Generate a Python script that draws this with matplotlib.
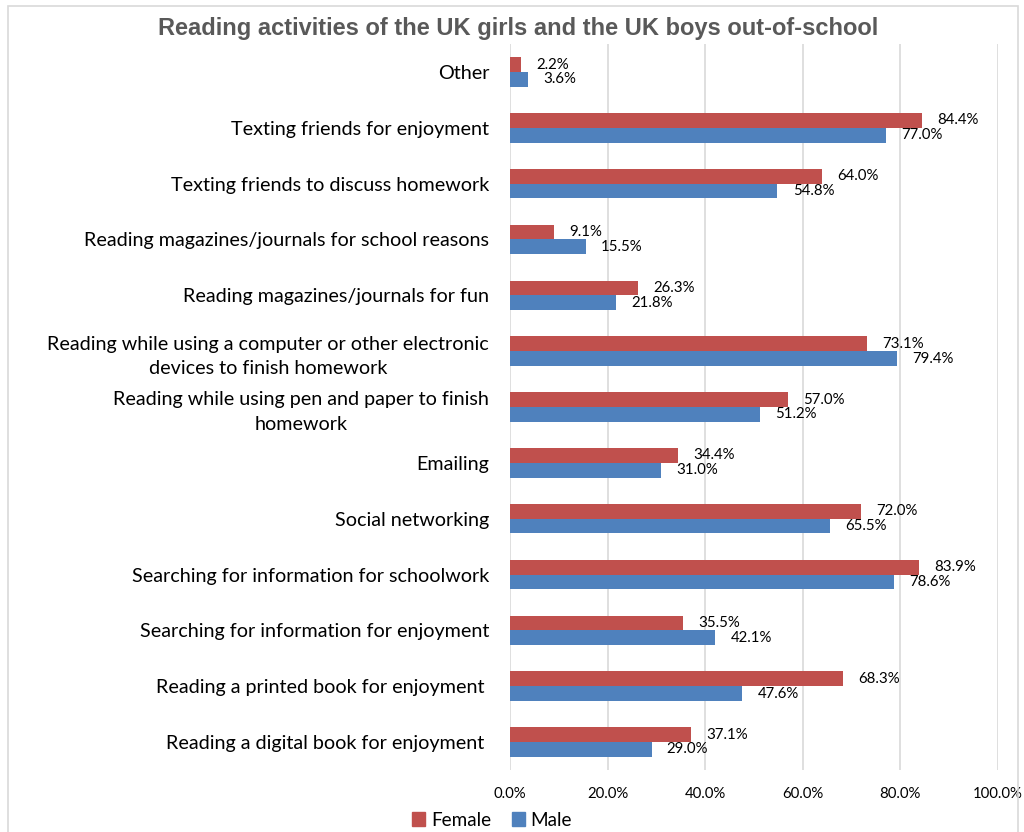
import matplotlib.pyplot as plt
import matplotlib.patches as mpatches
import numpy as np

categories = [
    "Other",
    "Texting friends for enjoyment",
    "Texting friends to discuss homework",
    "Reading magazines/journals for school reasons",
    "Reading magazines/journals for fun",
    "Reading while using a computer or other electronic\ndevices to finish homework",
    "Reading while using pen and paper to finish\nhomework",
    "Emailing",
    "Social networking",
    "Searching for information for schoolwork",
    "Searching for information for enjoyment",
    "Reading a printed book for enjoyment ",
    "Reading a digital book for enjoyment ",
]
female = [2.2, 84.4, 64.0, 9.1, 26.3, 73.1, 57.0, 34.4, 72.0, 83.9, 35.5, 68.3, 37.1]
male = [3.6, 77.0, 54.8, 15.5, 21.8, 79.4, 51.2, 31.0, 65.5, 78.6, 42.1, 47.6, 29.0]
xticks = [0, 20, 40, 60, 80, 100]

FEMALE_C = "#C0504D"
MALE_C = "#4F81BD"
LABEL_FONT = "Lato"

fig = plt.figure(figsize=(10.24, 8.32), dpi=100)
ax = fig.add_axes([510 / 1024, 1 - 770 / 832, 488 / 1024, 726 / 832])

n = len(categories)
pos = np.arange(n)[::-1].astype(float)
h = 0.265
ax.barh(pos + h / 2, female, height=h, color=FEMALE_C, label="Female", zorder=3)
ax.barh(pos - h / 2, male, height=h, color=MALE_C, label="Male", zorder=3)

for y, v in zip(pos + h / 2, female):
    ax.annotate(f"{v:.1f}%", (v, y), xytext=(11, 0), textcoords="offset points",
                ha="left", va="center", fontsize=10.8, family=LABEL_FONT, color="#000000")
for y, v in zip(pos - h / 2, male):
    ax.annotate(f"{v:.1f}%", (v, y), xytext=(11, 0), textcoords="offset points",
                ha="left", va="center", fontsize=10.8, family=LABEL_FONT, color="#000000")

ax.set_xlim(0, 100)
ax.set_ylim(-0.5, n - 0.5)
ax.set_xticks(xticks)
ax.set_xticklabels([f"{t:.1f}%" for t in xticks], family=LABEL_FONT, fontsize=10.7)
ax.set_yticks(pos)
ax.set_yticklabels(categories, family=LABEL_FONT, fontsize=14.2,
                   multialignment="center", linespacing=1.55)
ax.tick_params(axis="y", length=0, pad=15)
ax.tick_params(axis="x", length=0, pad=12)
ax.grid(axis="x", color="#D9D9D9", linewidth=1.2, zorder=0)
for s in ax.spines.values():
    s.set_visible(False)

fig.text(518 / 1024, 1 - 28 / 832,
         "Reading activities of the UK girls and the UK boys out-of-school",
         ha="center", va="center", fontsize=17, fontweight="bold",
         family="Liberation Sans", color="#595959")

handles = [mpatches.Patch(color=FEMALE_C, label="Female"),
           mpatches.Patch(color=MALE_C, label="Male")]
fig.legend(handles=handles, loc="center", bbox_to_anchor=(492 / 1024, 1 - 820 / 832),
           ncol=2, frameon=False, prop={"family": LABEL_FONT, "size": 13.6},
           handlelength=0.7, handleheight=0.7, handletextpad=0.3, columnspacing=1.1)

fig.patches.append(mpatches.Rectangle((8 / 1024, -0.05), 1010 / 1024, 1.05 - 6 / 832,
                                      transform=fig.transFigure, fill=False,
                                      edgecolor="#D9D9D9", linewidth=1.2))

fig.savefig("out.png", dpi=100)
